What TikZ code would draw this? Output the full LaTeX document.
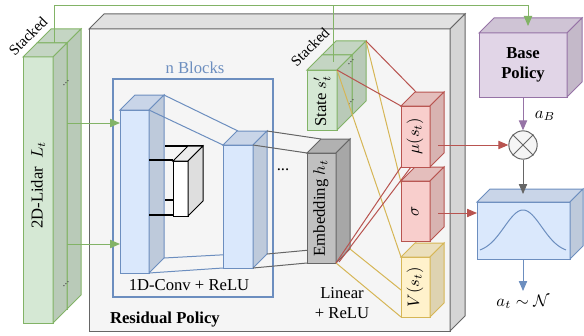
\documentclass[tikz,border=0pt]{standalone}
\usepackage{fontspec}
\setmainfont{Liberation Serif}
\usetikzlibrary{arrows.meta}

\definecolor{grnfill}{HTML}{D5E8D4}
\definecolor{grnline}{HTML}{82B366}
\definecolor{bluefill}{HTML}{DAE8FC}
\definecolor{blueline}{HTML}{6C8EBF}
\definecolor{redfill}{HTML}{F8CECC}
\definecolor{redline}{HTML}{B85450}
\definecolor{yelfill}{HTML}{FFF2CC}
\definecolor{yelline}{HTML}{D6B656}
\definecolor{purpfill}{HTML}{E1D5E7}
\definecolor{purpline}{HTML}{9673A6}
\definecolor{greyfill}{HTML}{F5F5F5}
\definecolor{greyline}{HTML}{666666}
\definecolor{embfill}{HTML}{C0C0C0}

% cuboid: name, x, y (front top left), width, height, depth, fill, line
\newcommand{\cuboid}[8]{%
  \coordinate (#1-ftl) at (#2,#3);
  \coordinate (#1-ftr) at ({#2+#4},#3);
  \coordinate (#1-fbl) at (#2,{#3+#5});
  \coordinate (#1-fbr) at ({#2+#4},{#3+#5});
  \coordinate (#1-btl) at ({#2+#6},{#3-#6});
  \coordinate (#1-btr) at ({#2+#4+#6},{#3-#6});
  \coordinate (#1-bbl) at ({#2+#6},{#3+#5-#6});
  \coordinate (#1-bbr) at ({#2+#4+#6},{#3+#5-#6});
  \filldraw[fill=#7,draw=#8] (#1-ftl) rectangle (#1-fbr);
  \filldraw[fill=#7!92!black,draw=#8] (#1-ftl) -- (#1-btl) -- (#1-btr) -- (#1-ftr) -- cycle;
  \filldraw[fill=#7!87!black,draw=#8] (#1-ftr) -- (#1-btr) -- (#1-bbr) -- (#1-fbr) -- cycle;
}

\tikzset{
  flow/.style={-{Triangle[length=6pt,width=5pt]}},
  vlabel/.style={rotate=90,inner sep=1pt},
  stacklabel/.style={rotate=45,font=\small,inner sep=0pt},
  dots/.style={font=\scriptsize,inner sep=0pt,text=black!70}
}

\begin{document}
\begin{tikzpicture}[x=0.6pt,y=-0.6pt,line width=0.6pt]
    \useasboundingbox (0,0) rectangle (584,335);

    % residual policy container
    \cuboid{res}{89}{29}{361}{302}{15}{greyfill}{greyline}
    \node[anchor=west,font=\bfseries] (resname) at (104,320) {Residual Policy};

    % stacked lidar
    \cuboid{lidb}{37}{43}{30}{266}{14}{grnfill}{grnline}
    \cuboid{lid}{23}{57}{30}{266}{14}{grnfill}{grnline}
    \node[vlabel] (lidname) at (38,185) {2D-Lidar \ $L_t$};
    \node[stacklabel] (lidstack) at (28,36) {Stacked};
    \node[dots,rotate=45] (liddots1) at (66,83) {...};
    \node[dots,rotate=45] (liddots2) at (66,284) {...};

    % n blocks
    \draw[draw=blueline,line width=0.7pt] (113,79) rectangle (273,297);
    \node[text=blueline] (nblocks) at (195,68) {n Blocks};
    \cuboid{conv}{120}{110}{29}{163}{15}{bluefill}{blueline}
    \draw[line width=0.9pt] (149,160) -- (173,160);
    \draw[line width=0.9pt] (165,200) -- (173,200);
    \draw[line width=0.9pt] (149,215) -- (173,215);
    \draw[line width=0.9pt] (165,146) -- (203,146);
    \cuboid{skip}{173}{161}{15}{55}{15}{white}{black}
    \draw[blueline] (conv-btr) -- (238,131);
    \draw[blueline] (conv-ftr) -- (223,145);
    \draw[blueline] (conv-bbr) -- (238,254);
    \draw[blueline] (conv-fbr) -- (223,268);
    \cuboid{convb}{223}{145}{30}{123}{14}{bluefill}{blueline}
    \node (convname) at (189,285) {1D-Conv + ReLU};
    \node (blkdots) at (283,170) {...};

    % embedding
    \draw[greyline] (convb-btr) -- (321,139);
    \draw[greyline] (convb-ftr) -- (307,153);
    \draw[greyline] (convb-bbr) -- (321,249);
    \draw[greyline] (convb-fbr) -- (307,263);
    \cuboid{emb}{307}{153}{29}{110}{14}{embfill}{greyline}
    \node[vlabel] (embname) at (321,208) {Embedding $h_t$};
    \node[align=center] (linname) at (342,303) {Linear\\+ ReLU};

    % stacked state
    \cuboid{stb}{322}{55}{30}{60}{14}{grnfill}{grnline}
    \cuboid{st}{307}{70}{30}{60}{15}{grnfill}{grnline}
    \node[vlabel] (stname) at (322,101) {State $s_t'$};
    \node[stacklabel] (ststack) at (310,47) {Stacked};
    \node[dots,rotate=45] (stdots1) at (351,62) {...};
    \node[dots,rotate=45] (stdots2) at (351,102) {...};

    % heads
    \draw[yelline] (st-ftr) -- (401,257);
    \draw[yelline] (stb-btr) -- (416,243);
    \draw[yelline] (emb-fbr) -- (401,317);
    \draw[yelline] (emb-bbr) -- (416,302);
    \cuboid{val}{401}{257}{29}{60}{14}{yelfill}{yelline}
    \node[vlabel] (valname) at (415,287) {$V(s_t)$};
    \cuboid{sig}{401}{181}{29}{60}{14}{redfill}{redline}
    \node[vlabel] (signame) at (415,211) {$\sigma$};
    \draw[redline] (st-ftr) -- (401,106);
    \draw[redline] (stb-btr) -- (416,92);
    \draw[redline] (emb-fbr) -- (401,167);
    \draw[redline] (339,262) -- (411,167);
    \cuboid{mu}{401}{106}{29}{61}{14}{redfill}{redline}
    \node[vlabel] (muname) at (415,136) {$\mu(s_t)$};

    % base policy and output
    \cuboid{base}{479}{33}{88}{64}{15}{purpfill}{purpline}
    \node[align=center,font=\bfseries] (basename) at (523,65) {Base\\Policy};
    \node[circle,draw=greyline,fill=greyfill,minimum size=17pt,inner sep=0pt] (mult) at (523,145) {};
    \draw[greyline] (mult.north west) -- (mult.south east);
    \draw[greyline] (mult.north east) -- (mult.south west);
    \cuboid{gauss}{477}{202}{93}{57}{13}{bluefill}{blueline}
    \draw[blueline] plot[domain=-1:1,samples=60] ({523+43*\x},{253-43*exp(-((2.3*\x)^2)/2)});

    \draw[flow,purpline] (523,97) -- (mult.north);
    \node (ab) at (545,116) {$a_B$};
    \draw[flow,redline] (438,145) -- (mult.west);
    \draw[flow,redline] (438,213) -- (477,213);
    \draw[flow,greyline] (mult.south) -- (523,194);
    \draw[flow,blueline] (523,259) -- (523,291);
    \node (at) at (523,302) {$a_t \sim \mathcal{N}$};

    % stacked inputs into the policies
    \draw[flow,grnline] (67,123) -- (120,123);
    \draw[flow,grnline] (67,244) -- (120,244);
    \draw[grnline] (333,62) -- (333,6);
    \draw[flow,grnline] (54,43) -- (54,6) -- (528,6) -- (528,26);
\end{tikzpicture}
\end{document}
